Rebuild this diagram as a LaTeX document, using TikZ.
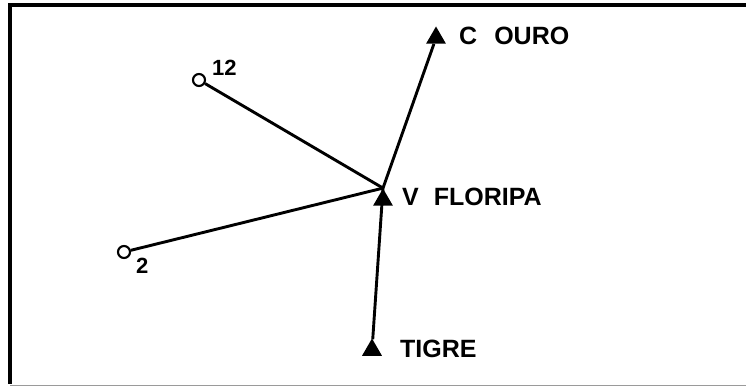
\documentclass[tikz,border=0pt]{standalone}
\usepackage{fontspec}
\setmainfont{Liberation Sans}
\usepackage{xcolor}
\definecolor{ink}{HTML}{000000}
\definecolor{rule}{HTML}{9A9A9A}
\usetikzlibrary{shapes.geometric,positioning}

\begin{document}
\begin{tikzpicture}[x=1pt,y=-1pt,
  font=\bfseries\fontsize{25}{29}\selectfont,
  every node/.style={align=center},
  base/.style={regular polygon,regular polygon sides=3,fill=ink,draw=none,
    minimum size=23pt,inner sep=0pt},
  pt/.style={circle,draw=ink,fill=white,line width=2.1pt,minimum size=12pt,inner sep=0pt},
  lbl/.style={text=ink,inner sep=0pt,anchor=west},
  num/.style={lbl,font=\bfseries\fontsize{22}{26}\selectfont},
  e/.style={draw=ink,line width=2.9pt}]
\useasboundingbox (0,0) rectangle (746,387);

% --- frame ---
\draw[ink,line width=3.8pt] (746,5) -- (10,5) -- (10,384);
\draw[rule,line width=1pt] (10,385) -- (746,385);

% --- base stations ---
\node[base] (ouro)  at (436,38)  {};
\node[base] (flor)  at (383,200) {};
\node[base] (tigre) at (372,350) {};

% --- survey points ---
\node[pt] (p12) at (199,80)  {};
\node[pt] (p2)  at (124,252) {};

% --- labels ---
\node[lbl] (lOuro)  at (459,36)  {C\hspace{17pt}OURO};
\node[lbl] (lFlor)  at (402,197) {V\hspace{15pt}FLORIPA};
\node[lbl] (lTigre) at (400,349) {TIGRE};
\node[num] (l12) at (212,68)  {12};
\node[num] (l2)  at (136,266) {2};

% edges
\draw[e] (p12) -- (flor.north);
\draw[e] (p2) -- (flor.north);
\draw[e] (flor.north) -- (ouro);
\draw[e] (tigre) -- (flor.north);
\end{tikzpicture}
\end{document}
